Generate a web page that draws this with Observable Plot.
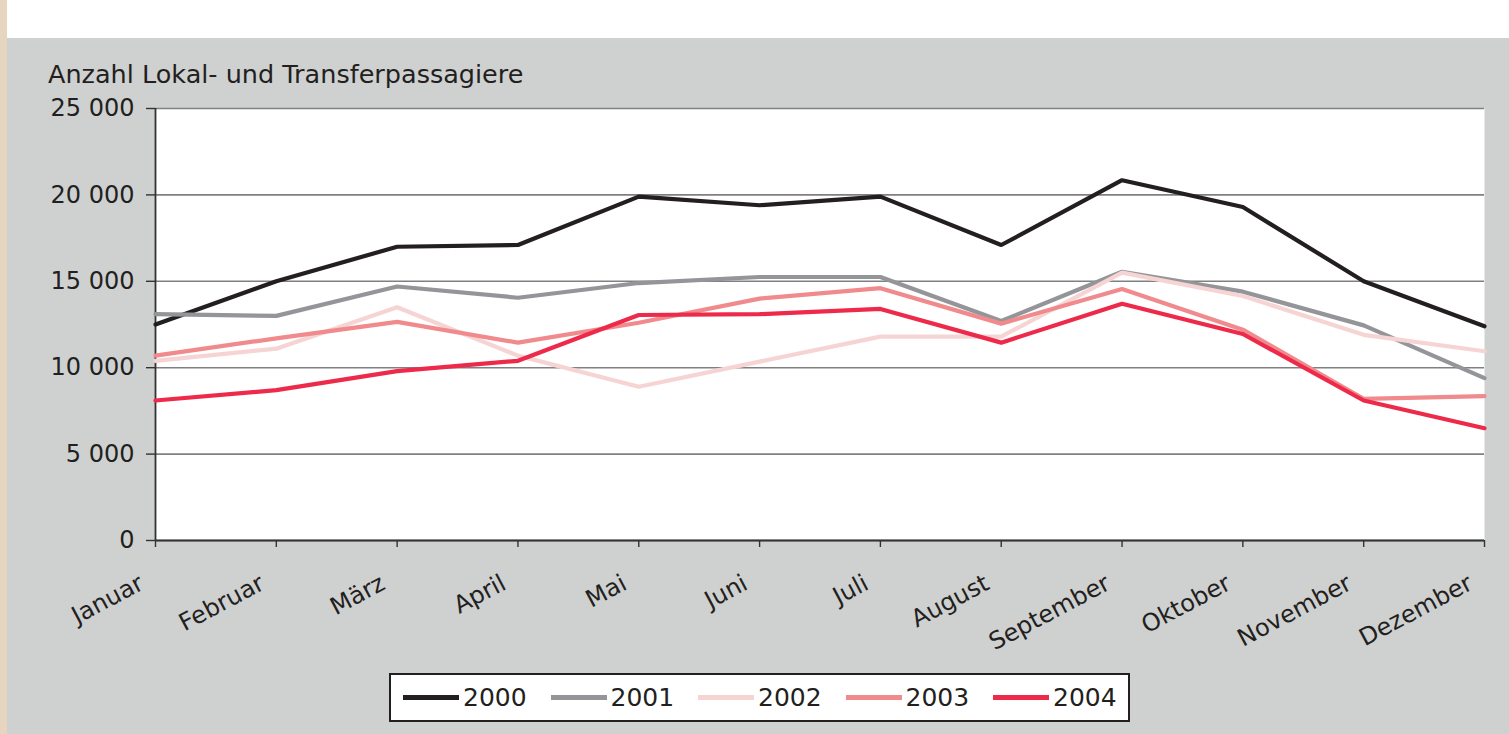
<!DOCTYPE html>
<html><head><meta charset="utf-8">
<script src="https://cdn.jsdelivr.net/npm/d3@7"></script>
<script src="https://cdn.jsdelivr.net/npm/@observablehq/plot@0.6"></script>
<style>
html,body{margin:0;padding:0;background:#fff;}
body{width:1509px;height:734px;position:relative;overflow:hidden;font-family:"DejaVu Sans",sans-serif;color:#231f20;}
#beige{position:absolute;left:0;top:0;width:7px;height:734px;background:#e6d5bf;}
#panel{position:absolute;left:7px;top:38px;width:1502px;height:696px;background:#cfd1d0;}
#title{position:absolute;left:41px;top:24px;font-size:25.5px;line-height:1;white-space:nowrap;}
#chart{position:absolute;left:0;top:0;}
#chart svg{display:block;}
#legend{position:absolute;left:382px;top:635px;width:725px;height:45px;border:2px solid #231f20;background:#fff;display:flex;align-items:center;padding-left:12px;box-sizing:content-box;}
.item{display:flex;align-items:center;width:147.5px;flex:none;}
.sw{width:56px;height:5px;margin-right:4px;}
.lab{font-size:25px;line-height:1;}
</style>
</head><body>
<div id="beige"></div>
<div id="panel">
  <div id="chart"></div>
  <div id="title">Anzahl Lokal- und Transferpassagiere</div>
  <div id="legend"></div>
</div>
<script>
const months = ["Januar","Februar","März","April","Mai","Juni","Juli","August","September","Oktober","November","Dezember"];
const years = ["2000","2001","2002","2003","2004"];
const colors = ["#231f20","#939598","#f7d4d4","#f08a8d","#ee2a4b"];
const v2000 = [12500,15000,17000,17100,19900,19400,19900,17100,20850,19300,15000,12400];
const v2001 = [13100,13000,14700,14050,14900,15250,15250,12700,15550,14400,12450,9400];
const v2002 = [10400,11100,13500,10700,8900,10350,11800,11800,15500,14150,11900,10950];
const v2003 = [10700,11700,12650,11450,12600,14000,14600,12550,14550,12200,8200,8350];
const v2004 = [8100,8700,9800,10400,13050,13100,13400,11450,13700,11950,8100,6500];
const yTicks = [0,5000,10000,15000,20000,25000];
const series = [v2000,v2001,v2002,v2003,v2004];

const data = [];
years.forEach((y,i)=>months.forEach((m,j)=>data.push({year:y, month:m, value:series[i][j]})));

const fmt = d => d3.format(",")(d).replace(/,/g," ");

const chart = Plot.plot({
  width: 1502, height: 636,
  marginLeft: 148, marginRight: 25, marginTop: 70, marginBottom: 134,
  style: {background:"transparent", fontFamily:"'DejaVu Sans', sans-serif", fontSize:"24px", color:"#231f20", overflow:"visible"},
  x: {type:"point", domain: months, padding: 0, round: false, label: null},
  y: {domain:[0,25000], label: null},
  color: {domain: years, range: colors},
  marks: [
    Plot.frame({fill:"white"}),
    Plot.gridY(yTicks, {stroke:"#808080", strokeOpacity:1, strokeWidth:1.6}),
    Plot.axisY(yTicks, {tickSize:9, tickPadding:12, tickFormat: fmt, label:null, stroke:"#333", strokeWidth:1.4}),
    Plot.axisX({tickSize:7, tickFormat: () => "", label:null, stroke:"#333", strokeWidth:1.4}),
    Plot.axisX({tickSize:0, tickPadding:41, tickRotate:-28, dx:-14, label:null}),
    Plot.ruleX([months[0]], {stroke:"#333", strokeWidth:1.8}),
    Plot.ruleY([0], {stroke:"#333", strokeWidth:2}),
    Plot.line(data, {x:"month", y:"value", z:"year", stroke:"year", strokeWidth:4.2, strokeLinejoin:"miter"})
  ]
});
document.getElementById("chart").appendChild(chart);

const leg = document.getElementById("legend");
years.forEach((y,i)=>{
  const it = document.createElement("div"); it.className="item";
  const sw = document.createElement("div"); sw.className="sw"; sw.style.background=colors[i];
  const lb = document.createElement("span"); lb.className="lab"; lb.textContent=y;
  it.appendChild(sw); it.appendChild(lb); leg.appendChild(it);
});
</script>
</body></html>
